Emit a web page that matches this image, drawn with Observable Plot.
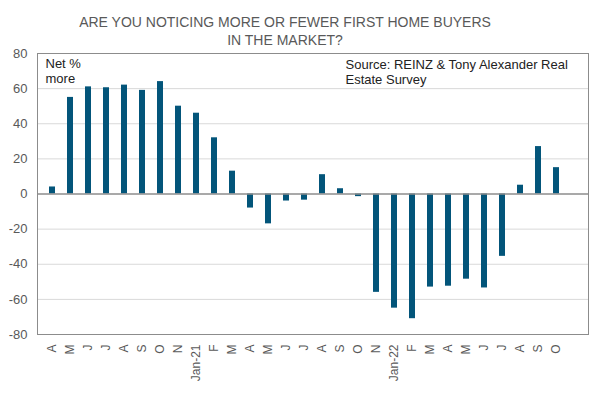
<!DOCTYPE html>
<html><head><meta charset="utf-8">
<script src="https://cdn.jsdelivr.net/npm/d3@7"></script>
<script src="https://cdn.jsdelivr.net/npm/@observablehq/plot@0.6"></script>
<style>
body{margin:0;background:#fff;font-family:"Liberation Sans",Arial,sans-serif;}
#wrap{position:relative;width:596px;height:393px;}
#title{position:absolute;left:0;top:13px;width:570px;text-align:center;color:#595959;font-size:14px;line-height:18px;}
#chart{position:absolute;left:0;top:0;}
</style></head><body>
<div id="wrap"><div id="chart"></div><div id="title">ARE YOU NOTICING MORE OR FEWER FIRST HOME BUYERS<br>IN THE MARKET?</div></div>
<script>
const months = ["A","M","J","J","A","S","O","N","Jan-21","F","M","A","M","J","J","A","S","O","N","Jan-22","F","M","A","M","J","J","A","S","O",""];
const values = [4,55,61,60.5,62,59,64,50,46,32,13,-8,-17,-4,-3.5,11,3,-1.5,-56,-65,-71,-53,-52.5,-48.5,-53.5,-35.5,5,27,15,null];
const yTicks = [-80,-60,-40,-20,0,20,40,60,80];
const noteLeft = "Net %\nmore";
const noteSource = "Source: REINZ & Tony Alexander Real\nEstate Survey";

const idx = d3.range(months.length);
const data = idx.filter(i => values[i] != null).map(i => ({i, v: values[i]}));

const chart = Plot.plot({
  width: 596, height: 393,
  marginTop: 53, marginBottom: 59, marginLeft: 37, marginRight: 8,
  style: {fontFamily: "'Liberation Sans', Arial, sans-serif", background: "transparent"},
  x: {type: "band", domain: idx, paddingInner: 0.67, paddingOuter: 0.335},
  y: {domain: [-80, 80]},
  marks: [
    Plot.gridY(yTicks.filter(d => d !== 0 && Math.abs(d) !== 80), {stroke: "#d9d9d9", strokeOpacity: 1}),
    Plot.barY(data, {x: "i", y: "v", fill: "#03557a"}),
    Plot.ruleY([0], {stroke: "#8c8c8c", strokeWidth: 1.5}),
    Plot.frame({stroke: "#8c8c8c", strokeWidth: 1}),
    Plot.axisY({ticks: yTicks, tickSize: 0, tickPadding: 10, fontSize: 13, color: "#595959", label: null, tickFormat: d => String(d)}),
    Plot.axisX({tickRotate: -90, tickSize: 0, tickPadding: 10, fontSize: 12, color: "#595959", label: null, tickFormat: i => months[i]}),
    Plot.text([noteLeft], {frameAnchor: "top-left", dx: 8, dy: 4, textAnchor: "start", lineAnchor: "top", lineHeight: 1.15, fontSize: 13, fill: "#222"}),
    Plot.text([noteSource], {frameAnchor: "top-left", dx: 308, dy: 5, textAnchor: "start", lineAnchor: "top", lineHeight: 1.15, fontSize: 13, fill: "#222"})
  ]
});
document.getElementById("chart").appendChild(chart);
</script>
</body></html>
